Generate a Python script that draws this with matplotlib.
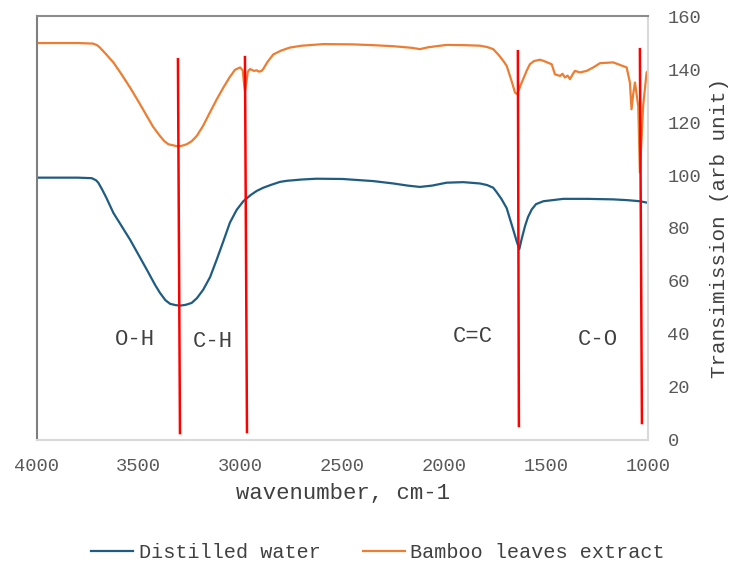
import numpy as np
import matplotlib.pyplot as plt

plt.rcParams['font.family'] = ['Liberation Mono', 'DejaVu Sans Mono']

## the data
wn_water = [4000, 3800, 3731, 3710, 3699, 3680, 3660, 3625, 3543, 3461, 3420, 3396,
            3370, 3347, 3320, 3298, 3270, 3241, 3215, 3184, 3150, 3118, 3085, 3053,
            3020, 2987, 2950, 2921, 2889, 2850, 2807, 2774, 2700, 2627, 2500, 2349,
            2250, 2180, 2120, 2060, 1989, 1907, 1825, 1790, 1760, 1743, 1720, 1694,
            1662, 1645, 1632, 1620, 1604, 1590, 1571, 1550, 1514, 1416, 1300, 1171,
            1100, 1040, 1000]
water = [99, 99, 98.8, 98, 97.1, 94.5, 91.5, 85.7, 75.6, 64.3, 58.5, 55.5,
         52.8, 51.4, 50.9, 50.7, 51, 51.7, 53.5, 56.7, 61.5, 68, 75, 82,
         86.8, 90.1, 92.5, 94, 95.2, 96.3, 97.4, 97.8, 98.3, 98.6, 98.5, 97.7,
         96.8, 96, 95.5, 96, 97.1, 97.3, 96.8, 96.2, 95.2, 93.5, 91, 87.5,
         79.4, 75, 72, 76, 80.7, 84, 87, 89, 90.1, 91, 91, 90.8,
         90.5, 90.1, 89.5]

wn_bamboo = [4000, 3800, 3725, 3705, 3691, 3660, 3625, 3585, 3543, 3500, 3461, 3430,
             3396, 3375, 3355, 3314, 3290, 3265, 3240, 3216, 3185, 3151, 3118, 3085,
             3055, 3028, 3003, 2990, 2984, 2979, 2972, 2965, 2954, 2935, 2921, 2910,
             2897, 2889, 2870, 2840, 2800, 2758, 2700, 2594, 2450, 2349, 2250, 2160,
             2120, 2080, 1989, 1900, 1825, 1790, 1760, 1730, 1710, 1694, 1670, 1653,
             1642, 1628, 1613, 1595, 1580, 1560, 1531, 1514, 1473, 1457, 1432, 1420,
             1408, 1395, 1383, 1370, 1359, 1334, 1301, 1269, 1236, 1171, 1105, 1089,
             1081, 1072, 1064, 1048, 1040, 1024, 1007, 1000]
bamboo = [149.8, 149.8, 149.6, 149, 148.1, 145.5, 142.5, 138, 133, 127.5, 122.3, 118.2,
          114.7, 112.8, 111.6, 110.9, 111, 111.6, 112.8, 114.7, 118.5, 123.6, 128.5, 133,
          136.8, 139.7, 140.6, 139.5, 135, 131.7, 135, 139, 140, 139.3, 139.5, 139,
          139.3, 140, 142.5, 145.5, 147, 148.1, 148.8, 149.4, 149.3, 149, 148.6, 148,
          147.5, 148.2, 149.1, 149, 148.8, 148.3, 147.5, 145, 143, 141.2, 135.5, 131.1,
          130.5, 133.5, 136.2, 139.5, 141.8, 143, 143.5, 143.1, 141.8, 138, 137.4, 138.2,
          136.8, 137.5, 136.2, 138, 139.3, 138.7, 139.3, 140.6, 142.2, 142.5, 140.6, 134.9,
          124.8, 131, 134.9, 126, 100.9, 126, 138.7, 139.3]

## marker lines (x top, x bottom, y top, y bottom)
peak_top = [3308, 2979, 1639, 1040]
peak_bot = [3298, 2969, 1634, 1030]
peak_ytop = [143.7, 144.5, 146.7, 147.5]
peak_ybot = [2.6, 3.0, 5.3, 6.4]

groups = ['O-H', 'C-H', 'C=C', 'C-O']
group_x = [3519, 3136, 1860, 1246]
group_y = [37.8, 37.0, 39.0, 37.8]

grey = '#595959'

fig = plt.figure(figsize=(7.31, 5.64), dpi=100)
ax = fig.add_axes([0.0506, 0.2199, 0.8359, 0.7517])

ax.plot(wn_water, water, color='#1f5c82', lw=1.6, label='Distilled water')
ax.plot(wn_bamboo, bamboo, color='#ed7d31', lw=1.6, label='Bamboo leaves extract')

for xt, xb, yt, yb in zip(peak_top, peak_bot, peak_ytop, peak_ybot):
    ax.plot([xt, xb], [yt, yb], color='#ff0000', lw=1.8)

for g, gx, gy in zip(groups, group_x, group_y):
    ax.text(gx, gy, g, ha='center', va='center', fontsize=16, color='#404040')

##axes and labels
ax.set_xlim(4000, 1000)
ax.set_ylim(0, 160)
ax.set_xticks(np.arange(4000, 999, -500))
ax.set_yticks(np.arange(0, 161, 20))
ax.yaxis.tick_right()
ax.yaxis.set_label_position('right')
ax.tick_params(axis='both', length=0, labelsize=13.5, labelcolor=grey)
ax.tick_params(axis='x', pad=13)
ax.tick_params(axis='y', pad=14)
ax.set_xlabel('wavenumber, cm-1', fontsize=16, color='#404040', labelpad=6)
ax.set_ylabel('Transimission (arb unit)', fontsize=15, color='#404040', labelpad=6)

ax.spines['left'].set_color('#7f7f7f')
ax.spines['top'].set_color('#8c8c8c')
ax.spines['right'].set_color('#d9d9d9')
ax.spines['bottom'].set_color('#d9d9d9')
for s in ax.spines.values():
    s.set_linewidth(1.5)

leg = fig.legend(loc='center', bbox_to_anchor=(0.517, 0.021), ncol=2, frameon=False,
                 fontsize=14.5, handlelength=2.1, handletextpad=0.25, columnspacing=2.1)
for t in leg.get_texts():
    t.set_color('#404040')

fig.savefig('out.png', dpi=100)
